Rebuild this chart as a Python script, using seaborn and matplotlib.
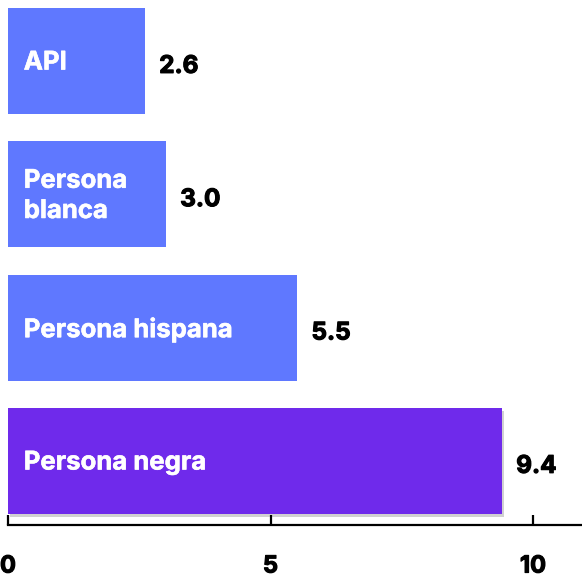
import matplotlib
matplotlib.use("Agg")
import matplotlib.pyplot as plt
import matplotlib.patheffects as pe
import seaborn as sns
import pandas as pd

categories = ["API", "Persona\nblanca", "Persona hispana", "Persona negra"]
values = [2.6, 3.0, 5.5, 9.4]
value_labels = ["2.6", "3.0", "5.5", "9.4"]
colors = ["#5f78ff", "#5f78ff", "#5f78ff", "#6f2aeb"]
xticks = [0, 5, 10]

sns.set_theme(style="white")
plt.rcParams["font.family"] = ["Inter", "DejaVu Sans"]

df = pd.DataFrame({"cat": categories, "val": values})

fig = plt.figure(figsize=(5.82, 5.78), dpi=100)
ax = fig.add_axes([0, 1 - 525 / 578, 1, 525 / 578])

sns.barplot(data=df, x="val", y="cat", hue="cat", palette=colors, legend=False,
            width=0.795, saturation=1, ax=ax, orient="h")

for i, p in enumerate(ax.patches):
    p.set_linewidth(0)
    if i == 3:
        p.set_path_effects([pe.SimplePatchShadow(offset=(1.5, -2.5), shadow_rgbFace="#000000", alpha=0.18),
                            pe.Normal()])

bold_fx = [pe.withStroke(linewidth=0.8, foreground="black")]
for i, (c, v, lab) in enumerate(zip(categories, values, value_labels)):
    ax.text(0.3, i + 0.015, c, color="white", fontsize=18.5, fontweight="bold",
            va="center", ha="left", linespacing=1.4,
            path_effects=[pe.withStroke(linewidth=0.4, foreground="white")])
    ax.text(v + 0.28, i + 0.04, lab, color="black", fontsize=17.5, fontweight="bold",
            va="center", ha="left", path_effects=bold_fx)

ax.set_xlim(-8 / 52.5, 574 / 52.5)
ax.set_ylim(3.48, -0.458)
ax.set_xlabel("")
ax.set_ylabel("")
ax.set_yticks([])
ax.set_xticks(xticks)
ax.set_xticklabels([str(t) for t in xticks])
for s in ["top", "right", "left"]:
    ax.spines[s].set_visible(False)
ax.spines["bottom"].set_bounds(0, 574 / 52.5)
ax.spines["bottom"].set_linewidth(1.6)
ax.spines["bottom"].set_color("black")
ax.tick_params(axis="x", bottom=True, direction="in", length=7, width=1.6, color="black",
               labelsize=17, pad=22, labelcolor="black")
for t in ax.get_xticklabels():
    t.set_fontweight("bold")
    t.set_path_effects(bold_fx)
ax.patch.set_alpha(0)

fig.savefig("out.png", dpi=100)
